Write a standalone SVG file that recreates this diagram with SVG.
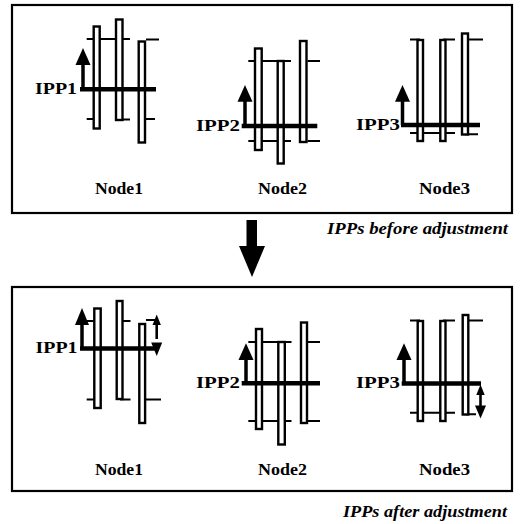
<svg xmlns="http://www.w3.org/2000/svg" width="522" height="524" viewBox="0 0 522 524">
<style>
.box{fill:none;stroke:#000;stroke-width:2.2}
.bar{fill:#fff;stroke:#000;stroke-width:2.4}
.tick{stroke:#000;stroke-width:2;fill:none}
.ipp{stroke:#000;stroke-width:4.5;fill:none}
.shaft{stroke:#000;stroke-width:3.5;fill:none}
.thin{stroke:#000;stroke-width:2.6;fill:none}
.head{fill:#000}
.lbl{font-family:"Liberation Serif","Times New Roman",serif;font-weight:bold;font-size:17px;fill:#000}
.cap{font-family:"Liberation Serif","Times New Roman",serif;font-weight:bold;font-style:italic;font-size:16.5px;fill:#000}
</style>
<rect width="522" height="524" fill="#fff"/>

<!-- BEFORE panel -->
<g id="panel-before">
<rect class="box" x="12" y="5" width="500" height="208"/>
<text class="cap" x="327" y="233.5" textLength="181" lengthAdjust="spacingAndGlyphs">IPPs before adjustment</text>
</g>

<g id="node1-before">
<path class="tick" d="M86.7 39H130M146 39.5H159M86.7 119H97M120 119.5H130M146 119H155"/>
<rect class="bar" x="93.7" y="26.5" width="6" height="102"/>
<rect class="bar" x="116" y="19.5" width="6.5" height="100.5"/>
<rect class="bar" x="138.7" y="41.5" width="6.3" height="101"/>
<path class="ipp" d="M80 89.3H156"/>
<path class="shaft" d="M83 89V63"/>
<polygon class="head" points="83,48 75.5,65 90.5,65"/>
<text class="lbl" x="35" y="93.5" textLength="42" lengthAdjust="spacingAndGlyphs">IPP1</text>
<text class="lbl" x="95" y="194" textLength="48" lengthAdjust="spacingAndGlyphs">Node1</text>
</g>

<g id="node2-before">
<path class="tick" d="M248.3 61H291M307.5 61H320M248.3 141H291M307.5 141H320"/>
<rect class="bar" x="255" y="48.5" width="6.7" height="101.5"/>
<rect class="bar" x="277.7" y="61" width="6" height="102.5"/>
<rect class="bar" x="300" y="41" width="6.5" height="101"/>
<path class="ipp" d="M241.7 126H317.3"/>
<path class="shaft" d="M245 126V99"/>
<polygon class="head" points="245,85 237.5,101.7 252.5,101.7"/>
<text class="lbl" x="196" y="130.5" textLength="44" lengthAdjust="spacingAndGlyphs">IPP2</text>
<text class="lbl" x="258" y="194" textLength="49" lengthAdjust="spacingAndGlyphs">Node2</text>
</g>

<g id="node3-before">
<path class="tick" d="M410 39.5H420M443 39.5H455M469 39.5H483M410 133H455M465 134.3H478"/>
<rect class="bar" x="417.5" y="40" width="5.5" height="101"/>
<rect class="bar" x="440.3" y="40" width="5.2" height="101"/>
<rect class="bar" x="462" y="33.5" width="6" height="101"/>
<path class="ipp" d="M401 125H480"/>
<path class="shaft" d="M402.5 125V99"/>
<polygon class="head" points="402.5,85 395,101.7 410,101.7"/>
<text class="lbl" x="356" y="129.5" textLength="44" lengthAdjust="spacingAndGlyphs">IPP3</text>
<text class="lbl" x="419" y="194" textLength="51" lengthAdjust="spacingAndGlyphs">Node3</text>
</g>

<g id="connectors">
<rect x="246.5" y="220" width="10.5" height="26.5" fill="#000"/>
<polygon points="239,246 265,246 252,277" fill="#000"/>
</g>

<!-- AFTER panel -->
<g id="panel-after">
<rect class="box" x="12" y="287" width="500" height="204"/>
<text class="cap" x="343" y="516.5" textLength="164" lengthAdjust="spacingAndGlyphs">IPPs after adjustment</text>
</g>

<g id="node1-after">
<path class="tick" d="M86.7 321H97M120 321H130.5M146 320H155M86.7 399.5H97M120 399.5H130.5M146 399.5H161"/>
<rect class="bar" x="94.3" y="308.5" width="6.4" height="99.5"/>
<rect class="bar" x="116.7" y="301" width="5.8" height="98"/>
<rect class="bar" x="139.3" y="324" width="5.8" height="99"/>
<path class="ipp" d="M80 348.5H156"/>
<path class="shaft" d="M82 348.5V322"/>
<polygon class="head" points="82,308 75,325 89,325"/>
<path class="thin" d="M156.7 322V339"/>
<polygon class="head" points="156.7,314.5 152.5,325 160.9,325"/>
<polygon class="head" points="151.2,342.5 162.2,342.5 156.7,356"/>
<text class="lbl" x="35.5" y="353" textLength="42" lengthAdjust="spacingAndGlyphs">IPP1</text>
<text class="lbl" x="95" y="475" textLength="48" lengthAdjust="spacingAndGlyphs">Node1</text>
</g>

<g id="node2-after">
<path class="tick" d="M248.3 342H291.5M307.5 342H320M248.3 421H291.5M307.5 421H320"/>
<rect class="bar" x="256" y="329" width="6" height="100"/>
<rect class="bar" x="278.3" y="342" width="6.5" height="102.5"/>
<rect class="bar" x="301" y="322.5" width="6" height="100.5"/>
<path class="ipp" d="M241.7 383.3H320"/>
<path class="shaft" d="M246 383V358"/>
<polygon class="head" points="246,343.3 238.5,360 253.5,360"/>
<text class="lbl" x="196" y="387.8" textLength="44" lengthAdjust="spacingAndGlyphs">IPP2</text>
<text class="lbl" x="258" y="475" textLength="49" lengthAdjust="spacingAndGlyphs">Node2</text>
</g>

<g id="node3-after">
<path class="tick" d="M410 320.5H420M443 320.5H455M469 320.5H483M410 412.7H455M465 414.3H476"/>
<rect class="bar" x="417.7" y="321" width="5.3" height="100"/>
<rect class="bar" x="440.3" y="321" width="5.2" height="100"/>
<rect class="bar" x="462.7" y="315" width="5.6" height="99.5"/>
<path class="ipp" d="M401.7 383.5H481"/>
<path class="shaft" d="M404 383.5V358"/>
<polygon class="head" points="404,343.3 396.5,360 411.5,360"/>
<path class="thin" d="M480.5 392V406"/>
<polygon class="head" points="480.5,384.5 476.3,395 484.7,395"/>
<polygon class="head" points="475,405.5 486,405.5 480.5,418.5"/>
<text class="lbl" x="356" y="388" textLength="44" lengthAdjust="spacingAndGlyphs">IPP3</text>
<text class="lbl" x="419" y="475" textLength="51" lengthAdjust="spacingAndGlyphs">Node3</text>
</g>
</svg>
